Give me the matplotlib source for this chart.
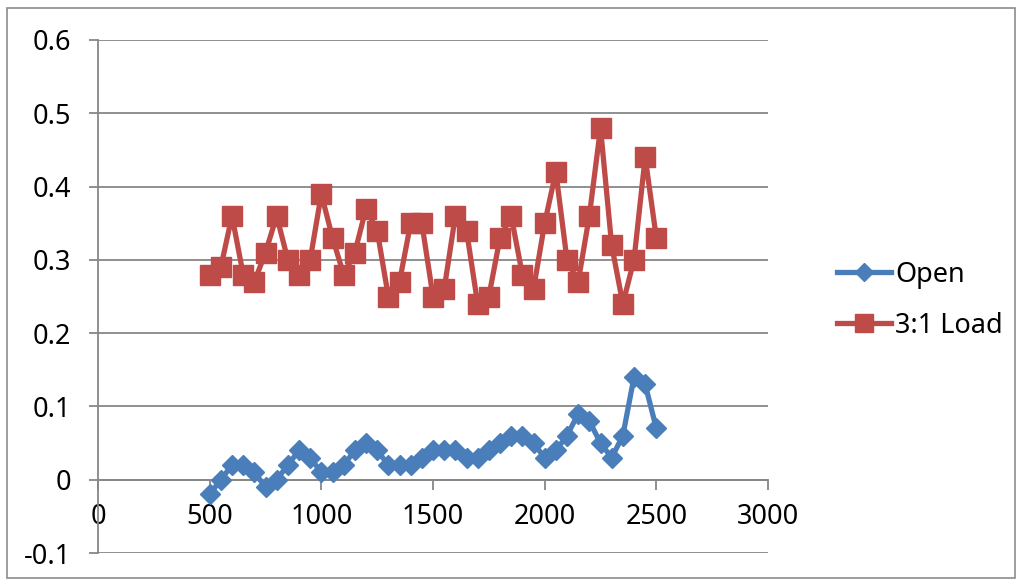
import matplotlib
matplotlib.use('Agg')
import matplotlib.pyplot as plt
from matplotlib.patches import Rectangle

plt.rcParams['font.family'] = ['Noto Sans', 'DejaVu Sans']

# --- data ---
x_values = [500, 550, 600, 650, 700, 750, 800, 850, 900, 950,
            1000, 1050, 1100, 1150, 1200, 1250, 1300, 1350, 1400, 1450,
            1500, 1550, 1600, 1650, 1700, 1750, 1800, 1850, 1900, 1950,
            2000, 2050, 2100, 2150, 2200, 2250, 2300, 2350, 2400, 2450, 2500]

open_values = [-0.02, 0.00, 0.02, 0.02, 0.01, -0.01, 0.00, 0.02, 0.04, 0.03,
               0.01, 0.01, 0.02, 0.04, 0.05, 0.04, 0.02, 0.02, 0.02, 0.03,
               0.04, 0.04, 0.04, 0.03, 0.03, 0.04, 0.05, 0.06, 0.06, 0.05,
               0.03, 0.04, 0.06, 0.09, 0.08, 0.05, 0.03, 0.06, 0.14, 0.13, 0.07]

load_values = [0.28, 0.29, 0.36, 0.28, 0.27, 0.31, 0.36, 0.30, 0.28, 0.30,
               0.39, 0.33, 0.28, 0.31, 0.37, 0.34, 0.25, 0.27, 0.35, 0.35,
               0.25, 0.26, 0.36, 0.34, 0.24, 0.25, 0.33, 0.36, 0.28, 0.26,
               0.35, 0.42, 0.30, 0.27, 0.36, 0.48, 0.32, 0.24, 0.30, 0.44, 0.33]

series_labels = ['Open', '3:1 Load']
x_ticks = [0, 500, 1000, 1500, 2000, 2500, 3000]
y_ticks = [-0.1, 0, 0.1, 0.2, 0.3, 0.4, 0.5, 0.6]

BLUE = '#4A7EBB'
RED = '#BE4B48'
GRID = '#878787'

fig = plt.figure(figsize=(10.16, 5.8), dpi=100)
ax = fig.add_axes([98 / 1016, 27 / 580, 670 / 1016, 513 / 580])

ax.plot(x_values, open_values, color=BLUE, linewidth=3.8, marker='D',
        markersize=10.5, markeredgecolor=BLUE, label=series_labels[0], zorder=3)
ax.plot(x_values, load_values, color=RED, linewidth=3.8, marker='s',
        markersize=15, markeredgecolor=RED, label=series_labels[1], zorder=3)

ax.set_xlim(0, 3000)
ax.set_ylim(-0.1, 0.6)
ax.set_xticks(x_ticks)
ax.set_xticklabels([str(v) for v in x_ticks])
ax.set_yticks(y_ticks)
ax.set_yticklabels(['-0.1', '0', '0.1', '0.2', '0.3', '0.4', '0.5', '0.6'])

ax.grid(True, axis='y', color=GRID, linewidth=1.3)
ax.set_axisbelow(True)

for side in ['top', 'right']:
    ax.spines[side].set_visible(False)
ax.spines['bottom'].set_position(('data', 0))
ax.spines['bottom'].set_color(GRID)
ax.spines['bottom'].set_linewidth(1.3)
ax.spines['left'].set_color(GRID)
ax.spines['left'].set_linewidth(1.3)

ax.tick_params(axis='x', direction='out', length=7, width=1.3, color=GRID,
               labelsize=19.5, pad=10)
ax.tick_params(axis='y', direction='out', length=6.5, width=1.3, color=GRID,
               labelsize=19.5, pad=13)

leg = ax.legend(loc='center left', bbox_to_anchor=(1.103, 0.493), frameon=False,
                fontsize=19.5, handlelength=2.0, handletextpad=0.15,
                labelspacing=0.85, borderpad=0, borderaxespad=0,
                markerscale=0.9)

# outer chart border
fig.patches.append(Rectangle((7 / 1016, 2 / 580), 1008 / 1016, 570 / 580,
                             transform=fig.transFigure, fill=False,
                             edgecolor='#8c8c8c', linewidth=1.2))

fig.savefig('out.png', dpi=100)
